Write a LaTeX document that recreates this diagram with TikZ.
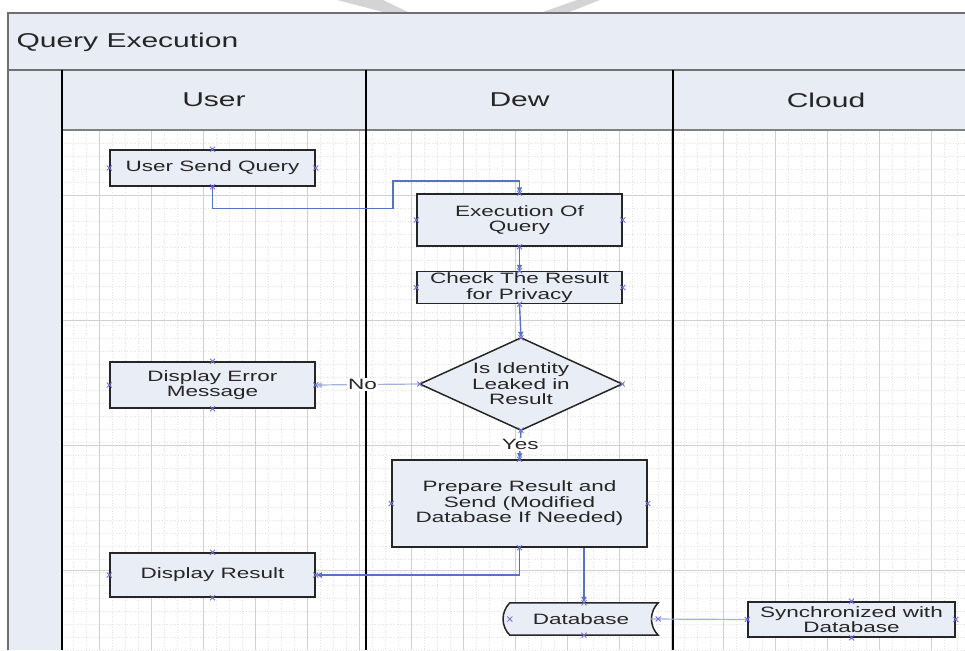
\documentclass[tikz,border=0pt]{standalone}
\usepackage{fontspec}
\setmainfont{Liberation Sans}[FakeStretch=1.5]
\usetikzlibrary{arrows.meta}

\definecolor{laneFill}{HTML}{E8ECF4}
\definecolor{boxFill}{HTML}{E9EDF6}
\definecolor{flow}{HTML}{5672C0}
\definecolor{flowLight}{HTML}{A3B2DC}
\definecolor{gridMajor}{HTML}{D0D0D0}
\definecolor{gridMinor}{HTML}{E2E2E2}
\definecolor{pinBlue}{HTML}{7070D8}
\definecolor{ink}{HTML}{262626}
\definecolor{frameGray}{HTML}{707070}
\definecolor{markGray}{HTML}{D4D4D4}

% small connection-point cross at an anchor
\newcommand\cpin[1]{%
  \draw[pinBlue, line width=0.8pt]
    ([shift={(-2.5,-2.5)}]#1) -- ([shift={(2.5,2.5)}]#1)
    ([shift={(-2.5,2.5)}]#1) -- ([shift={(2.5,-2.5)}]#1);}

\begin{document}
\begin{tikzpicture}[x=1pt,y=-1pt,
  boxtext/.style={font=\fontsize{15}{15.5}\selectfont, text=ink, align=center},
  proc/.style={boxtext, draw=ink, line width=1.5pt, fill=boxFill, inner sep=0pt},
  holder/.style={inner sep=0pt, draw=none},
  outline/.style={draw=ink, line width=1.5pt, fill=boxFill},
  lanetitle/.style={font=\fontsize{20}{22}\selectfont, text=ink},
  flowline/.style={draw=flow, line width=1.4pt},
  arr/.style={flowline, -{Latex[length=6pt,width=6pt]}},
  softline/.style={draw=flowLight, line width=1.2pt},
  softarr/.style={softline, -{Latex[length=6pt,width=6pt]}},
  lbl/.style={boxtext, fill=white, inner sep=1.5pt}
]
\useasboundingbox (0,0) rectangle (965,650);
\fill[white] (0,0) rectangle (965,650);

% faint marks above the frame
\fill[markGray] (337,0) -- (383,0) -- (410,13) -- (387,13) -- cycle;
\fill[markGray] (577,0) -- (600,0) -- (567,13) -- (540,13) -- cycle;

% drawing grid
\begin{scope}
  \clip (62,130) rectangle (965,650);
  \foreach \x in {47,60,...,965}
    \draw[gridMinor, dotted, line width=0.7pt] (\x,130) -- (\x,650);
  \foreach \y in {130,143,...,650}
    \draw[gridMinor, dotted, line width=0.7pt] (62,\y) -- (965,\y);
  \foreach \x in {47,99,...,965}
    \draw[gridMajor, line width=0.8pt] (\x,130) -- (\x,650);
  \foreach \y in {195,320,445,570}
    \draw[gridMajor, line width=0.8pt] (62,\y) -- (965,\y);
\end{scope}

% pool frame and lane headers
\fill[laneFill] (8,13) rectangle (965,70);
\fill[laneFill] (8,70) rectangle (62,650);
\fill[laneFill] (62,70) rectangle (965,130);
\draw[frameGray, line width=2pt] (8,650) -- (8,13) -- (965,13);
\draw[frameGray, line width=2pt] (8,70) -- (965,70);
\draw[gray, line width=2pt] (62,130) -- (965,130);
\foreach \x in {62,366,673}
  \draw[black, line width=1.4pt] (\x,70) -- (\x,650);

\node[lanetitle, anchor=west] (pooltitle) at (13,42) {Query Execution};
\node[lanetitle] (laneUser)  at (214,100) {User};
\node[lanetitle] (laneDew)   at (519.5,100) {Dew};
\node[lanetitle] (laneCloud) at (826,100) {Cloud};

% process steps
\node[proc, minimum width=205pt, minimum height=36pt] (usq) at (212.5,168) {User Send Query};
\node[proc, minimum width=205pt, minimum height=52pt] (exec) at (519.5,220) {Execution Of\\Query};
\node[proc, minimum width=205pt, minimum height=32pt] (check) at (519.5,287.5) {Check The Result\\for Privacy};
\node[proc, minimum width=205pt, minimum height=46pt] (derr) at (212.5,385) {Display Error\\Message};
\node[proc, minimum width=255pt, minimum height=87pt] (prep) at (519.5,503.5) {Prepare Result and\\Send (Modified\\Database If Needed)};
\node[proc, minimum width=205pt, minimum height=44pt] (dres) at (212.5,575) {Display Result};
\node[proc, minimum width=207pt, minimum height=35pt] (sync) at (851.5,619.5) {Synchronized with\\Database};

% decision
\node[holder, minimum width=202pt, minimum height=92pt] (diam) at (521,384) {};
\draw[outline] (diam.north) -- (diam.east) -- (diam.south) -- (diam.west) -- cycle;
\node[boxtext] (diamtext) at (diam) {Is Identity\\Leaked in\\Result};

% stored data
\node[holder, minimum width=148pt, minimum height=32pt] (db) at (584,619) {};
\draw[outline] (db.north west) -- (db.north east)
  .. controls +(-9,9) and +(-9,-9) .. (db.south east) -- (db.south west)
  .. controls +(-9,-9) and +(-9,9) .. (db.north west) -- cycle;
\node[boxtext] (dbtext) at ([xshift=-3pt]db.center) {Database};

% connectors
\coordinate (jog) at (393,181);
\draw[arr] (usq.south) -- ++(0,22) -| (jog) -| (exec.north);
\draw[arr] (exec.south) -- (check.north);
\draw[arr] (check.south) -- (diam.north);
\draw[softarr] (diam.west) -- node[lbl, pos=0.55] {No} (derr.east);
\draw[arr] (diam.south) -- node[lbl] {Yes} (prep.north);
\draw[arr] (prep.south) |- (dres.east);
\draw[arr] (prep.south -| db.north) -- (db.north);
\draw[softline] ([xshift=-7pt]db.east) -- (sync.west);

% connection points
\foreach \n in {usq,exec,check,derr,prep,dres,sync,diam,db}
  \foreach \a in {north,south,east,west}
    \cpin{\n.\a};
\end{tikzpicture}
\end{document}
